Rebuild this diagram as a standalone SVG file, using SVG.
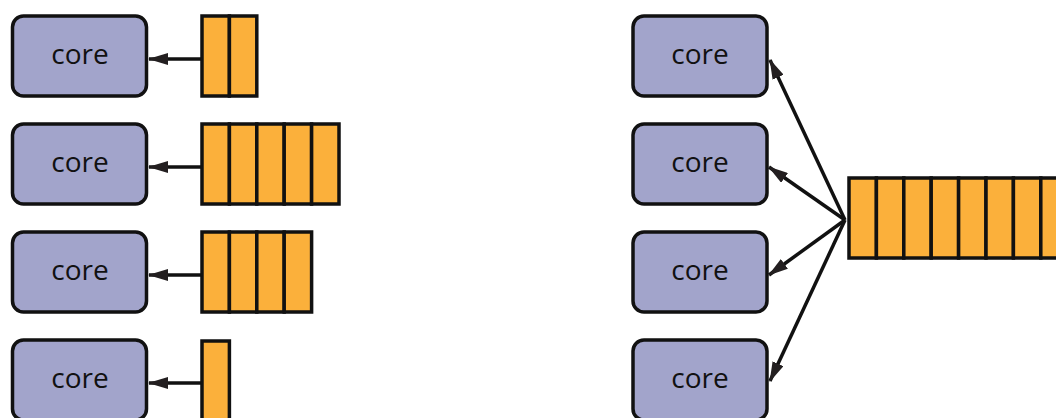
<svg xmlns="http://www.w3.org/2000/svg" width="1056" height="418" viewBox="0 0 1056 418">
<style>
.core{fill:#a2a4cb;stroke:#111;stroke-width:3.5}
.lbl{font-family:"Open Sans","Noto Sans",sans-serif;font-size:28px;fill:#111;text-anchor:middle}
.cell{fill:#fbb03b;stroke:#111;stroke-width:3.5}
.conn{stroke:#111;stroke-width:3.5;fill:none;marker-end:url(#ah)}
</style>
<defs>
<marker id="ah" viewBox="0 0 20 12" refX="19" refY="6" markerWidth="20" markerHeight="12" markerUnits="userSpaceOnUse" orient="auto">
<path d="M0,0 L20,6 L0,12 z" fill="#231f20"/>
</marker>
</defs>
<g id="core-l1"><rect class="core" x="12.5" y="16" width="134" height="80" rx="11"/><text class="lbl" x="80" y="64">core</text></g>
<g id="core-l2"><rect class="core" x="12.5" y="124" width="134" height="80" rx="11"/><text class="lbl" x="80" y="172">core</text></g>
<g id="core-l3"><rect class="core" x="12.5" y="232" width="134" height="80" rx="11"/><text class="lbl" x="80" y="280">core</text></g>
<g id="core-l4"><rect class="core" x="12.5" y="340" width="134" height="80" rx="11"/><text class="lbl" x="80" y="388">core</text></g>
<g id="queue-l1">
<rect class="cell" x="202" y="16" width="27.4" height="80"/><rect class="cell" x="229.4" y="16" width="27.4" height="80"/>
</g>
<g id="queue-l2">
<rect class="cell" x="202" y="124" width="27.4" height="80"/><rect class="cell" x="229.4" y="124" width="27.4" height="80"/><rect class="cell" x="256.8" y="124" width="27.4" height="80"/><rect class="cell" x="284.2" y="124" width="27.4" height="80"/><rect class="cell" x="311.6" y="124" width="27.4" height="80"/>
</g>
<g id="queue-l3">
<rect class="cell" x="202" y="232" width="27.4" height="80"/><rect class="cell" x="229.4" y="232" width="27.4" height="80"/><rect class="cell" x="256.8" y="232" width="27.4" height="80"/><rect class="cell" x="284.2" y="232" width="27.4" height="80"/>
</g>
<g id="queue-l4">
<rect class="cell" x="202" y="341" width="27.4" height="80"/>
</g>
<g id="core-r1"><rect class="core" x="633" y="16" width="134" height="80" rx="11"/><text class="lbl" x="700" y="64">core</text></g>
<g id="core-r2"><rect class="core" x="633" y="124" width="134" height="80" rx="11"/><text class="lbl" x="700" y="172">core</text></g>
<g id="core-r3"><rect class="core" x="633" y="232" width="134" height="80" rx="11"/><text class="lbl" x="700" y="280">core</text></g>
<g id="core-r4"><rect class="core" x="633" y="340" width="134" height="80" rx="11"/><text class="lbl" x="700" y="388">core</text></g>
<g id="queue-r">
<rect class="cell" x="849" y="178" width="27.4" height="80"/><rect class="cell" x="876.4" y="178" width="27.4" height="80"/><rect class="cell" x="903.8" y="178" width="27.4" height="80"/><rect class="cell" x="931.2" y="178" width="27.4" height="80"/><rect class="cell" x="958.6" y="178" width="27.4" height="80"/><rect class="cell" x="986" y="178" width="27.4" height="80"/><rect class="cell" x="1013.4" y="178" width="27.4" height="80"/><rect class="cell" x="1040.8" y="178" width="27.4" height="80"/>
</g>
<g id="connectors">
<line class="conn" x1="202" y1="59" x2="149" y2="59"/>
<line class="conn" x1="202" y1="167" x2="149" y2="167"/>
<line class="conn" x1="202" y1="275" x2="149" y2="275"/>
<line class="conn" x1="202" y1="383" x2="149" y2="383"/>
<line class="conn" x1="845" y1="220" x2="770" y2="60"/>
<line class="conn" x1="845" y1="220" x2="769" y2="167"/>
<line class="conn" x1="845" y1="220" x2="769" y2="275"/>
<line class="conn" x1="845" y1="220" x2="770" y2="381"/>
</g>
</svg>
